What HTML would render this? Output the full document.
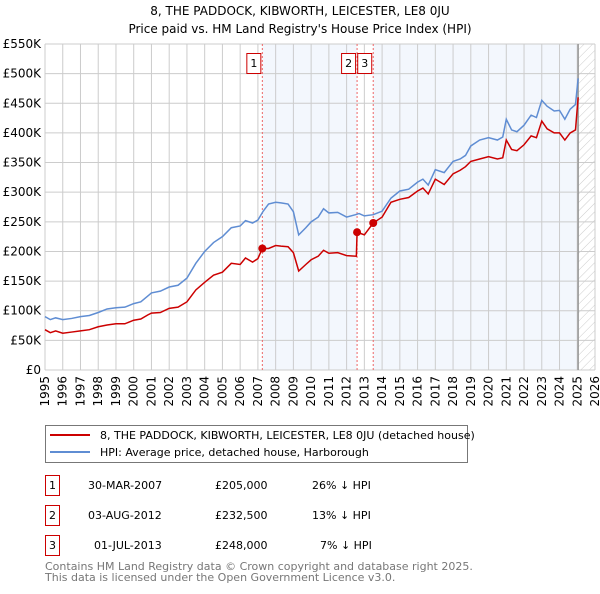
<!DOCTYPE html>
<html><head><meta charset="utf-8"><style>
body{margin:0;background:#fff;font-family:"DejaVu Sans","Liberation Sans",sans-serif;}
svg text{font-family:"DejaVu Sans","Liberation Sans",sans-serif;}
</style></head><body>
<svg id="c" width="600" height="590" xmlns="http://www.w3.org/2000/svg">
<defs><pattern id="hatch" width="6" height="6" patternUnits="userSpaceOnUse" patternTransform="rotate(45)"><line x1="0" y1="0" x2="0" y2="6" stroke="#ccc" stroke-width="1"/></pattern></defs>
<text x="300" y="15" text-anchor="middle" font-size="12">8, THE PADDOCK, KIBWORTH, LEICESTER, LE8 0JU</text>
<text x="300" y="33" text-anchor="middle" font-size="12">Price paid vs. HM Land Registry's House Price Index (HPI)</text>
<g id="plot"></g>
<g>
<rect x="45.5" y="425.5" width="422" height="37" fill="#fff" stroke="#777"/>
<line x1="50" y1="435" x2="90" y2="435" stroke="#cc0000" stroke-width="2"/>
<text x="100" y="439" font-size="11">8, THE PADDOCK, KIBWORTH, LEICESTER, LE8 0JU (detached house)</text>
<line x1="50" y1="452" x2="90" y2="452" stroke="#5f8dd3" stroke-width="2"/>
<text x="100" y="456" font-size="11">HPI: Average price, detached house, Harborough</text>
</g>
<g font-size="11">
<rect x="45.5" y="475.5" width="14" height="20" fill="#fff" stroke="#cc0000"/><text x="52.5" y="489" text-anchor="middle">1</text>
<text x="88" y="489">30-MAR-2007</text><text x="215" y="489">£205,000</text><text x="312" y="489">26% ↓ HPI</text>
<rect x="45.5" y="505.5" width="14" height="20" fill="#fff" stroke="#cc0000"/><text x="52.5" y="519" text-anchor="middle">2</text>
<text x="88" y="519">03-AUG-2012</text><text x="215" y="519">£232,500</text><text x="312" y="519">13% ↓ HPI</text>
<rect x="45.5" y="535.5" width="14" height="20" fill="#fff" stroke="#cc0000"/><text x="52.5" y="549" text-anchor="middle">3</text>
<text x="94" y="549">01-JUL-2013</text><text x="215" y="549">£248,000</text><text x="320" y="549">7% ↓ HPI</text>
</g>
<text x="45" y="570" font-size="11" fill="#777">Contains HM Land Registry data © Crown copyright and database right 2025.</text>
<text x="45" y="581" font-size="11" fill="#777">This data is licensed under the Open Government Licence v3.0.</text>
</svg>
<script>
const yTicks=[0,50,100,150,200,250,300,350,400,450,500,550];
const yTickLabels=["£0","£50K","£100K","£150K","£200K","£250K","£300K","£350K","£400K","£450K","£500K","£550K"];
const xYears=[1995,1996,1997,1998,1999,2000,2001,2002,2003,2004,2005,2006,2007,2008,2009,2010,2011,2012,2013,2014,2015,2016,2017,2018,2019,2020,2021,2022,2023,2024,2025,2026];
const hpiT=[1995,1995.3,1995.6,1996,1996.5,1997,1997.5,1998,1998.5,1999,1999.5,2000,2000.4,2000.8,2001,2001.5,2002,2002.5,2003,2003.5,2004,2004.5,2005,2005.5,2006,2006.3,2006.7,2007,2007.3,2007.6,2008,2008.3,2008.7,2009,2009.3,2009.7,2010,2010.4,2010.7,2011,2011.5,2012,2012.5,2012.7,2013,2013.5,2014,2014.5,2015,2015.5,2016,2016.3,2016.6,2017,2017.5,2018,2018.4,2018.7,2019,2019.5,2020,2020.5,2020.8,2021,2021.3,2021.6,2022,2022.4,2022.7,2023,2023.3,2023.7,2024,2024.3,2024.6,2024.9,2025.05];
const hpiV=[90,85,88,85,87,90,92,97,103,105,106,112,115,125,130,133,140,143,155,180,200,215,225,240,243,252,248,253,268,280,283,282,280,267,228,240,250,258,272,265,266,258,262,264,260,262,268,290,302,305,317,322,312,338,333,352,356,362,378,388,392,388,393,423,405,402,413,430,426,455,445,437,438,423,440,448,492];
const ppT=[1995,1995.3,1995.6,1996,1996.5,1997,1997.5,1998,1998.5,1999,1999.5,2000,2000.4,2000.8,2001,2001.5,2002,2002.5,2003,2003.5,2004,2004.5,2005,2005.5,2006,2006.3,2006.7,2007,2007.25,2007.6,2008,2008.3,2008.7,2009,2009.3,2009.7,2010,2010.4,2010.7,2011,2011.5,2012,2012.55,2012.59,2013,2013.5,2014,2014.5,2015,2015.5,2016,2016.3,2016.6,2017,2017.5,2018,2018.4,2018.7,2019,2019.5,2020,2020.5,2020.8,2021,2021.3,2021.6,2022,2022.4,2022.7,2023,2023.3,2023.7,2024,2024.3,2024.6,2024.9,2025.05];
const ppV=[68,63,66,62,64,66,68,73,76,78,78,84,86,93,96,97,104,106,115,135,148,160,165,180,178,189,182,188,205,205,210,209,208,198,167,178,186,192,202,197,198,193,192,232.5,228,248,258,283,288,291,302,307,297,322,313,331,337,343,352,356,360,356,358,388,372,370,380,395,392,420,407,400,400,388,400,405,460];
const sales=[{n:"1",t:2007.25,v:205},{n:"2",t:2012.59,v:232.5},{n:"3",t:2013.5,v:248}];
const L=45,R=595,T=44,B=370;
const x=t=>L+(t-1995)/(2026-1995)*(R-L);
const y=v=>B-v/550*(B-T);
const NS="http://www.w3.org/2000/svg";
const g=document.getElementById('plot');
function mk(tag,attrs,parent){const e=document.createElementNS(NS,tag);for(const k in attrs)e.setAttribute(k,attrs[k]);(parent||g).appendChild(e);return e;}
let bg=mk('rect',{x:L,y:T,width:R-L,height:B-T,fill:'#fff'});


let s1=mk('rect',{x:x(sales[0].t),y:T,width:x(sales[1].t)-x(sales[0].t),height:B-T,fill:'#eef3fc',opacity:0.7});


let s2=mk('rect',{x:x(sales[2].t),y:T,width:x(2025.05)-x(sales[2].t),height:B-T,fill:'#eef3fc',opacity:0.7});


let ht=mk('rect',{x:x(2025.05),y:T,width:R-x(2025.05),height:B-T,fill:'url(#hatch)'});


yTicks.forEach((v,i)=>{
 let l=mk('line',{x1:L,x2:R,y1:y(v),y2:y(v),stroke:'#ccc'});
 
 
 let t=mk('text',{x:L-4,y:y(v)+4,'text-anchor':'end','font-size':12});
 
 
 t.textContent=yTickLabels[i];
});
xYears.forEach(yr=>{
 let l=mk('line',{x1:x(yr),x2:x(yr),y1:T,y2:B,stroke:'#ccc'});
 
 
 let t=mk('text',{x:0,y:0,'text-anchor':'end','font-size':12,transform:`translate(${x(yr)+4},${B+6}) rotate(-90)`});
 
 
 t.textContent=yr;
});
let fl=mk('line',{x1:x(2025.05),x2:x(2025.05),y1:T,y2:B,stroke:'#999','stroke-width':1.5});


sales.forEach(s=>{
 let l=mk('line',{x1:x(s.t),x2:x(s.t),y1:T,y2:B,stroke:'#e66','stroke-dasharray':'2,2'});
 
 
 let r=mk('rect',{x:x(s.t)-15.5,y:53.5,width:14,height:20,fill:'#fff',stroke:'#cc0000'});
 
 
 let t=mk('text',{x:x(s.t)-8.5,y:67,'text-anchor':'middle','font-size':11});
 
 
 t.textContent=s.n;
});
let hp=mk('polyline',{points:hpiT.map((t,i)=>x(t)+','+y(hpiV[i])).join(' '),fill:'none',stroke:'#5f8dd3','stroke-width':1.5});


let pp=mk('polyline',{points:ppT.map((t,i)=>x(t)+','+y(ppV[i])).join(' '),fill:'none',stroke:'#cc0000','stroke-width':1.5});


sales.forEach(s=>{
 let c=mk('circle',{cx:x(s.t),cy:y(s.v),r:4,fill:'#cc0000'});
 
 
});
</script>
</body></html>
